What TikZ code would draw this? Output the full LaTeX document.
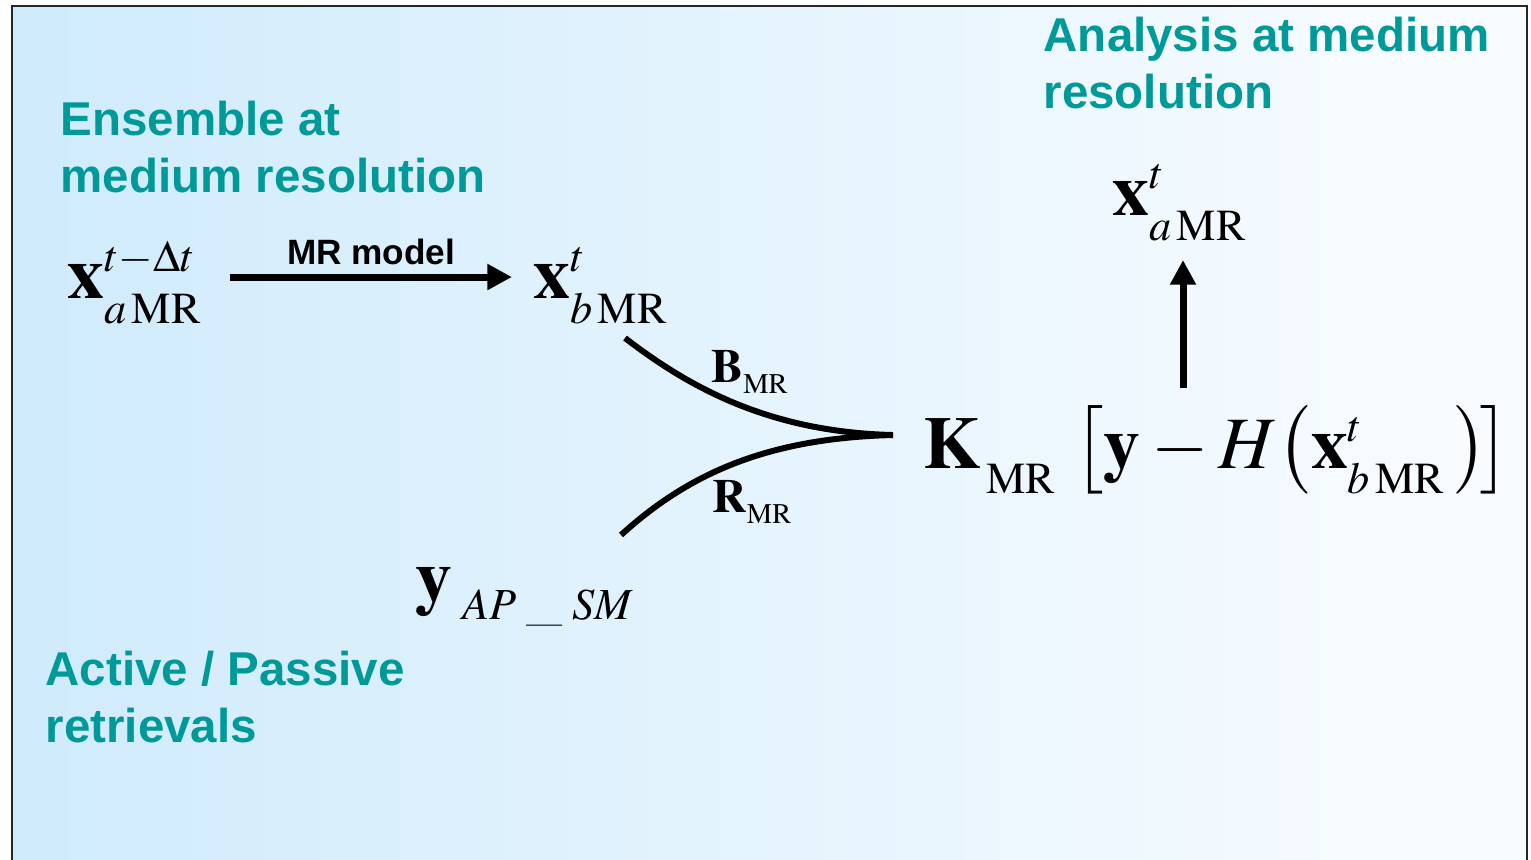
\documentclass[tikz,border=0pt]{standalone}
\usepackage{mathptmx}
\usepackage[no-math]{fontspec}
\newfontfamily\headfont{Liberation Sans}
\DeclareMathSizes{21}{21}{12.6}{9}
\DeclareMathSizes{13.5}{13.5}{8.1}{6}
\newcommand{\lsub}[1]{\lower2pt\hbox{$\scriptstyle#1$}}
\newcommand{\usc}{\hbox{\fontsize{14}{14}\selectfont\_}}
\usepackage{tikz}
\usetikzlibrary{arrows.meta,positioning,calc}
\definecolor{tealtext}{RGB}{0,153,153}
\definecolor{bgblue}{RGB}{203,233,251}
\definecolor{bgpale}{RGB}{248,252,255}
\pgfdeclarehorizontalshading{bgfade}{100bp}{color(0bp)=(bgblue); color(20bp)=(bgblue); color(72bp)=(bgpale); color(100bp)=(white)}

\begin{document}
\begin{tikzpicture}[x=0.01cm, y=-0.01cm,
    heading/.style={font=\headfont\bfseries\fontsize{13.5}{16.2}\selectfont, text=tealtext, align=left, anchor=base west, inner sep=0pt},
    var/.style={font=\fontsize{21}{25}\selectfont, anchor=base west, inner sep=0pt},
    cov/.style={font=\fontsize{13.5}{16}\selectfont, anchor=base west, inner sep=0pt},
    arr/.style={-{Triangle[length=7pt,width=7pt]}, line width=2pt},
    flow/.style={line width=1.7pt}]
% Frame and background
\useasboundingbox (0,0) rectangle (1531,859);
\clip (0,0) rectangle (1531,859);
\shade[shading=bgfade] (12,6) rectangle (1527,880);
\draw[line width=0.6pt, black!85] (12,880) -- (12,6) -- (1527,6) -- (1527,880);

% Headings (anchored at the last line)
\node[heading] (enslab) at (60,192) {Ensemble at\\medium resolution};
\node[heading] (analab) at (1043,108) {Analysis at medium\\resolution};
\node[heading] (retlab) at (45,742) {Active / Passive\\retrievals};

% Variables
\node[var] (xa) at (67,298) {$\mathbf{x}^{t-\Delta t}_{\lsub{a\,\mathrm{MR}}}$};
\node[var] (xb) at (533,298) {$\mathbf{x}^{t}_{\lsub{b\,\mathrm{MR}}}$};
\node[var] (xan) at (1112,215) {$\mathbf{x}^{t}_{\lsub{a\,\mathrm{MR}}}$};
\node[var] (yobs) at (415,601) {$\mathbf{y}^{}_{\;AP\;\usc\;SM}$};
\node[var] (kexpr) at (923,468) {$\mathbf{K}^{}_{\lsub{\,\mathrm{MR}}}\,\left[\rule[-7pt]{0pt}{22pt}\mathbf{y}-H\!\left(\mathbf{x}^{t}_{\lsub{b\,\mathrm{MR}}}\,\right)\!\right]$};

% Forecast step
\draw[arr] ($(xa.base east)+(27,-21)$) -- ($(xb.base west)+(-21,-21)$)
    node[midway, above=2.6pt, inner sep=0pt, font=\headfont\bfseries\fontsize{10}{12}\selectfont] (mrlab) {MR model};

% Merging of background and observations
\coordinate (join) at ($(kexpr.base west)+(-30,-33)$);
\draw[flow] ($(xb.base west)+(92,40)$) .. controls (690,388) and (770,432) .. (join);
\draw[flow] ($(yobs.base west)+(206,-66)$) .. controls (690,472) and (770,438) .. (join);
\node[cov] (bmr) at (711,382) {$\mathbf{B}^{}_{\mathrm{MR}}$};
\node[cov] (rmr) at (712,512) {$\mathbf{R}^{}_{\mathrm{MR}}$};

% Analysis
\draw[arr] ($(kexpr.base west)+(260,-80)$) -- ($(xan.base west)+(71,45)$);
\end{tikzpicture}
\end{document}
